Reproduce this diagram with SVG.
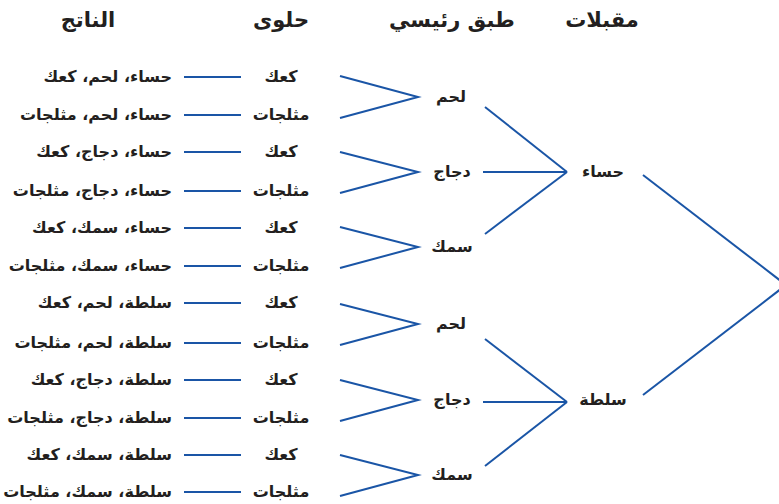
<svg xmlns="http://www.w3.org/2000/svg" width="779" height="504" viewBox="0 0 779 504">
<style>
text{font-family:"DejaVu Sans",sans-serif;font-weight:bold;fill:#231f20}
.h{font-size:21px;text-anchor:middle}
.o{font-size:16px;text-anchor:end}
.d{font-size:16px;text-anchor:middle}
.m{font-size:16px;text-anchor:middle}
.c line,.c polyline{stroke:#1a55a6;stroke-width:2;fill:none}
</style>
<rect width="779" height="504" fill="#fff"/>
<g id="headers">
<text class="h" x="88" y="27">الناتج</text>
<text class="h" x="281" y="27">حلوى</text>
<text class="h" x="452" y="27">طبق رئيسي</text>
<text class="h" x="602" y="27">مقبلات</text>
</g>
<g class="c" id="connectors">
<line x1="184" y1="77" x2="241" y2="77"/>
<line x1="184" y1="115" x2="241" y2="115"/>
<line x1="184" y1="152" x2="241" y2="152"/>
<line x1="184" y1="191" x2="241" y2="191"/>
<line x1="184" y1="228" x2="241" y2="228"/>
<line x1="184" y1="266" x2="241" y2="266"/>
<line x1="184" y1="303" x2="241" y2="303"/>
<line x1="184" y1="343" x2="241" y2="343"/>
<line x1="184" y1="380" x2="241" y2="380"/>
<line x1="184" y1="418" x2="241" y2="418"/>
<line x1="184" y1="455" x2="241" y2="455"/>
<line x1="184" y1="492" x2="241" y2="492"/>
<polyline points="340,76 418,97 340,118"/>
<polyline points="340,152 418,172 340,193"/>
<polyline points="340,227 418,247 340,268"/>
<polyline points="340,304 418,324 340,345"/>
<polyline points="340,380 418,400 340,421"/>
<polyline points="340,455 418,475 340,496"/>
<line x1="485" y1="107" x2="567" y2="172"/>
<line x1="483" y1="172" x2="567" y2="172"/>
<line x1="485" y1="234" x2="567" y2="172"/>
<line x1="485" y1="339" x2="567" y2="402"/>
<line x1="483" y1="402" x2="567" y2="402"/>
<line x1="485" y1="466" x2="567" y2="402"/>
<line x1="643" y1="175" x2="786" y2="285"/>
<line x1="643" y1="395" x2="786" y2="285"/>
</g>
<g id="appetizers">
<text class="m" x="603" y="177">حساء</text>
<text class="m" x="603" y="405">سلطة</text>
</g>
<g id="mains">
<text class="m" x="451" y="102">لحم</text>
<text class="m" x="452" y="177">دجاج</text>
<text class="m" x="452" y="252">سمك</text>
<text class="m" x="451" y="329">لحم</text>
<text class="m" x="452" y="405">دجاج</text>
<text class="m" x="452" y="480">سمك</text>
</g>
<g id="desserts">
<text class="d" x="281" y="82">كعك</text>
<text class="d" x="281" y="120">مثلجات</text>
<text class="d" x="281" y="157">كعك</text>
<text class="d" x="281" y="196">مثلجات</text>
<text class="d" x="281" y="233">كعك</text>
<text class="d" x="281" y="271">مثلجات</text>
<text class="d" x="281" y="308">كعك</text>
<text class="d" x="281" y="348">مثلجات</text>
<text class="d" x="281" y="385">كعك</text>
<text class="d" x="281" y="423">مثلجات</text>
<text class="d" x="281" y="460">كعك</text>
<text class="d" x="281" y="497">مثلجات</text>
</g>
<g id="outcomes">
<text class="o" x="172" y="82">حساء، لحم، كعك</text>
<text class="o" x="172" y="120">حساء، لحم، مثلجات</text>
<text class="o" x="172" y="157">حساء، دجاج، كعك</text>
<text class="o" x="172" y="196">حساء، دجاج، مثلجات</text>
<text class="o" x="172" y="233">حساء، سمك، كعك</text>
<text class="o" x="172" y="271">حساء، سمك، مثلجات</text>
<text class="o" x="172" y="308">سلطة، لحم، كعك</text>
<text class="o" x="172" y="348">سلطة، لحم، مثلجات</text>
<text class="o" x="172" y="385">سلطة، دجاج، كعك</text>
<text class="o" x="172" y="423">سلطة، دجاج، مثلجات</text>
<text class="o" x="172" y="460">سلطة، سمك، كعك</text>
<text class="o" x="172" y="497">سلطة، سمك، مثلجات</text>
</g>
</svg>
